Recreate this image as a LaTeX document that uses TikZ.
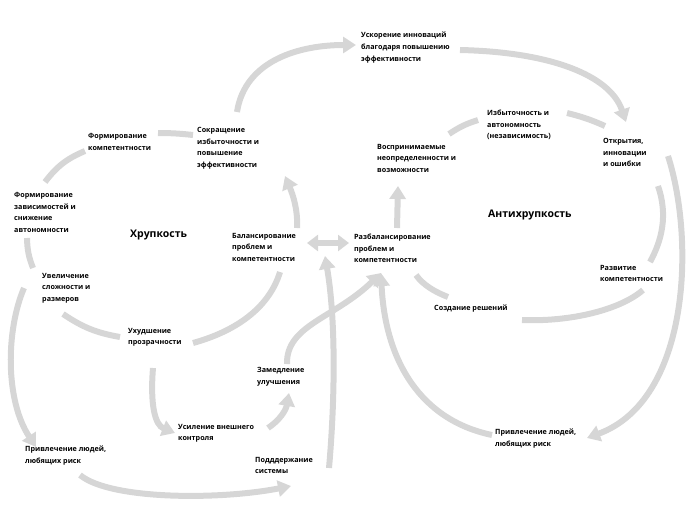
\documentclass[tikz,border=0pt]{standalone}
\usepackage{fontspec}
\setmainfont{Open Sans}
\usetikzlibrary{arrows.meta}
\begin{document}
\begin{tikzpicture}[x=1pt,y=-1pt,
  lbl/.style={anchor=north west,inner sep=0pt,align=left,font=\fontsize{7.2}{11.6}\selectfont\bfseries},
  ttl/.style={anchor=north west,inner sep=0pt,font=\fontsize{10.5}{12}\selectfont\bfseries},
  band/.style={draw=black!16,line width=6pt},
  arr/.style={band,-{Triangle[width=16pt,length=13pt]}},
  darr/.style={band,{Triangle[width=16pt,length=11pt]}-{Triangle[width=16pt,length=11pt]}}]
\useasboundingbox (0,0) rectangle (700,525);
% labels
\node[lbl] (fk) at (88,133) {Формирование\\компетентности};
\node[lbl] (si) at (197,127) {Сокращение\\избыточности и\\повышение\\эффективности};
\node[lbl] (fz) at (14,192) {Формирование\\зависимостей и\\снижение\\автономности};
\node[ttl] (hr) at (130,230) {Хрупкость};
\node[lbl] (bal) at (232,233) {Балансирование\\проблем и\\компетентности};
\node[lbl] (uv) at (42,273) {Увеличение\\сложности и\\размеров};
\node[lbl] (up) at (128,328) {Ухудшение\\прозрачности};
\node[lbl] (zu) at (257,367) {Замедление\\улучшения};
\node[lbl] (uk) at (178,424) {Усиление внешнего\\контроля};
\node[lbl] (pl) at (25,446) {Привлечение людей,\\любящих риск};
\node[lbl] (ps) at (255,457) {Подддержание\\системы};
\node[lbl] (ui) at (361,32) {Ускорение инноваций\\благодаря повышению\\эффективности};
\node[lbl] (ia) at (487,110) {Избыточность и\\автономность\\(независимость)};
\node[lbl] (vn) at (377,144) {Воспринимаемые\\неопределенности и\\возможности};
\node[lbl] (oi) at (603,138) {Открытия,\\инновации\\и ошибки};
\node[ttl] (ah) at (488,210) {Антихрупкость};
\node[lbl] (rb) at (354,234) {Разбалансирование\\проблем и\\компетентности};
\node[lbl] (rk) at (600,265) {Развитие\\компетентности};
\node[lbl] (sr) at (434,305) {Создание решений};
\node[lbl] (pr) at (495,429) {Привлечение людей,\\любящих риск};
% left circle
\draw[band] (158,133) to[bend left=3] (193,135);
\draw[band] (45,182) to[bend left=15] (85,151);
\draw[band] (27,238) to[bend right=10] (33,268);
\draw[band] (63,314) to[bend right=12] (120,337);
\draw[band] (193,343) .. controls (240,330) and (270,305) .. (280,272);
\draw[arr] (297,228) .. controls (298,210) and (293,195) .. (285,176);
\draw[darr] (307,243) -- (349,243);
\draw[arr] (237,112) .. controls (245,60) and (300,45) .. (356,45);
\draw[arr] (460,50) .. controls (550,52) and (610,75) .. (626,122);
% right circle
\draw[band] (449,134) to[bend left=8] (478,120);
\draw[band] (567,113) to[bend left=5] (605,126);
\draw[band] (658,186) .. controls (668,215) and (662,240) .. (650,262);
\draw[band] (643,290) .. controls (620,310) and (570,322) .. (522,320);
\draw[band] (448,297) .. controls (435,292) and (423,285) .. (416,275);
\draw[arr] (397,228) -- (398,186);
\draw[arr] (668,156) .. controls (695,240) and (690,400) .. (587,438);
\draw[arr] (492,435) .. controls (420,420) and (385,360) .. (381,273);
\draw[arr] (287,364) .. controls (286,325) and (335,318) .. (381,273);
% left lower
\draw[arr] (24,288) .. controls (6,330) and (5,400) .. (36,447);
\draw[arr] (80,475) .. controls (110,500) and (220,500) .. (291,486);
\draw[arr] (153,368) .. controls (150,405) and (155,425) .. (175,433);
\draw[arr] (268,428) .. controls (280,420) and (286,410) .. (289,393);
\draw[arr] (329,468) .. controls (335,400) and (336,320) .. (325,256);
\end{tikzpicture}
\end{document}
